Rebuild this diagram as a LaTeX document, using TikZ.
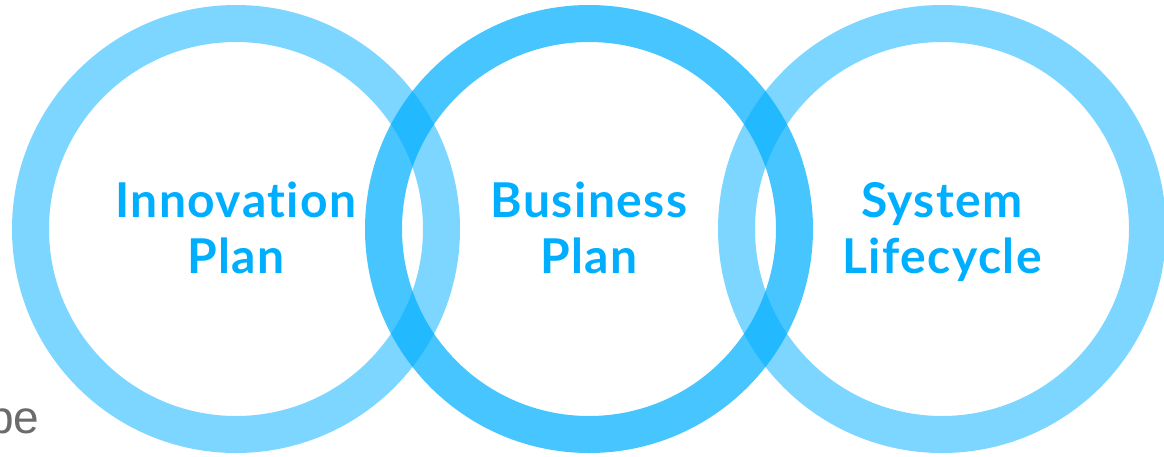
\documentclass[tikz,border=0pt]{standalone}
\usepackage{fontspec}
\setmainfont{Lato}[Ligatures=NoCommon, LetterSpace=3]
\newfontfamily\notefont{Liberation Sans}
\usetikzlibrary{positioning}
\definecolor{ringblue}{RGB}{0,174,255}
\definecolor{notegray}{RGB}{107,107,107}
\tikzset{every ring/.style={circle, draw=ringblue, line width=37pt,
                            minimum size=411pt, inner sep=0pt, outer sep=0pt},
        ring/.style={every ring, draw opacity=#1},
        ring label/.style={text=ringblue, align=center,
                           font=\bfseries\fontsize{48}{56}\selectfont},
        note/.style={text=notegray, inner sep=0pt,
                     font=\notefont\fontsize{46}{46}\selectfont},
        }

\begin{document}
\begin{tikzpicture}[x=1pt,y=-1pt]
    \useasboundingbox (0,0) rectangle (1164,456);
    \clip (0,0) rectangle (1164,456);

    \node[ring=.51] (innovation) at (236,229) {};
    \node[ring=.51] (lifecycle) at (942,229) {};
    \node[ring=.72] (business) at (589,229) {};

    \node[ring label] (innovation text) at ([yshift=-5pt]innovation.center) {\strut Innovation\\\strut Plan};
    \node[ring label] (business text) at ([yshift=-5pt]business.center) {\strut Business\\\strut Plan};
    \node[ring label] (lifecycle text) at ([yshift=-5pt]lifecycle.center) {\strut System\\\strut Lifecycle};

    \node[note, anchor=base west] (scope note) at (-12,433) {pe};
\end{tikzpicture}
\end{document}
